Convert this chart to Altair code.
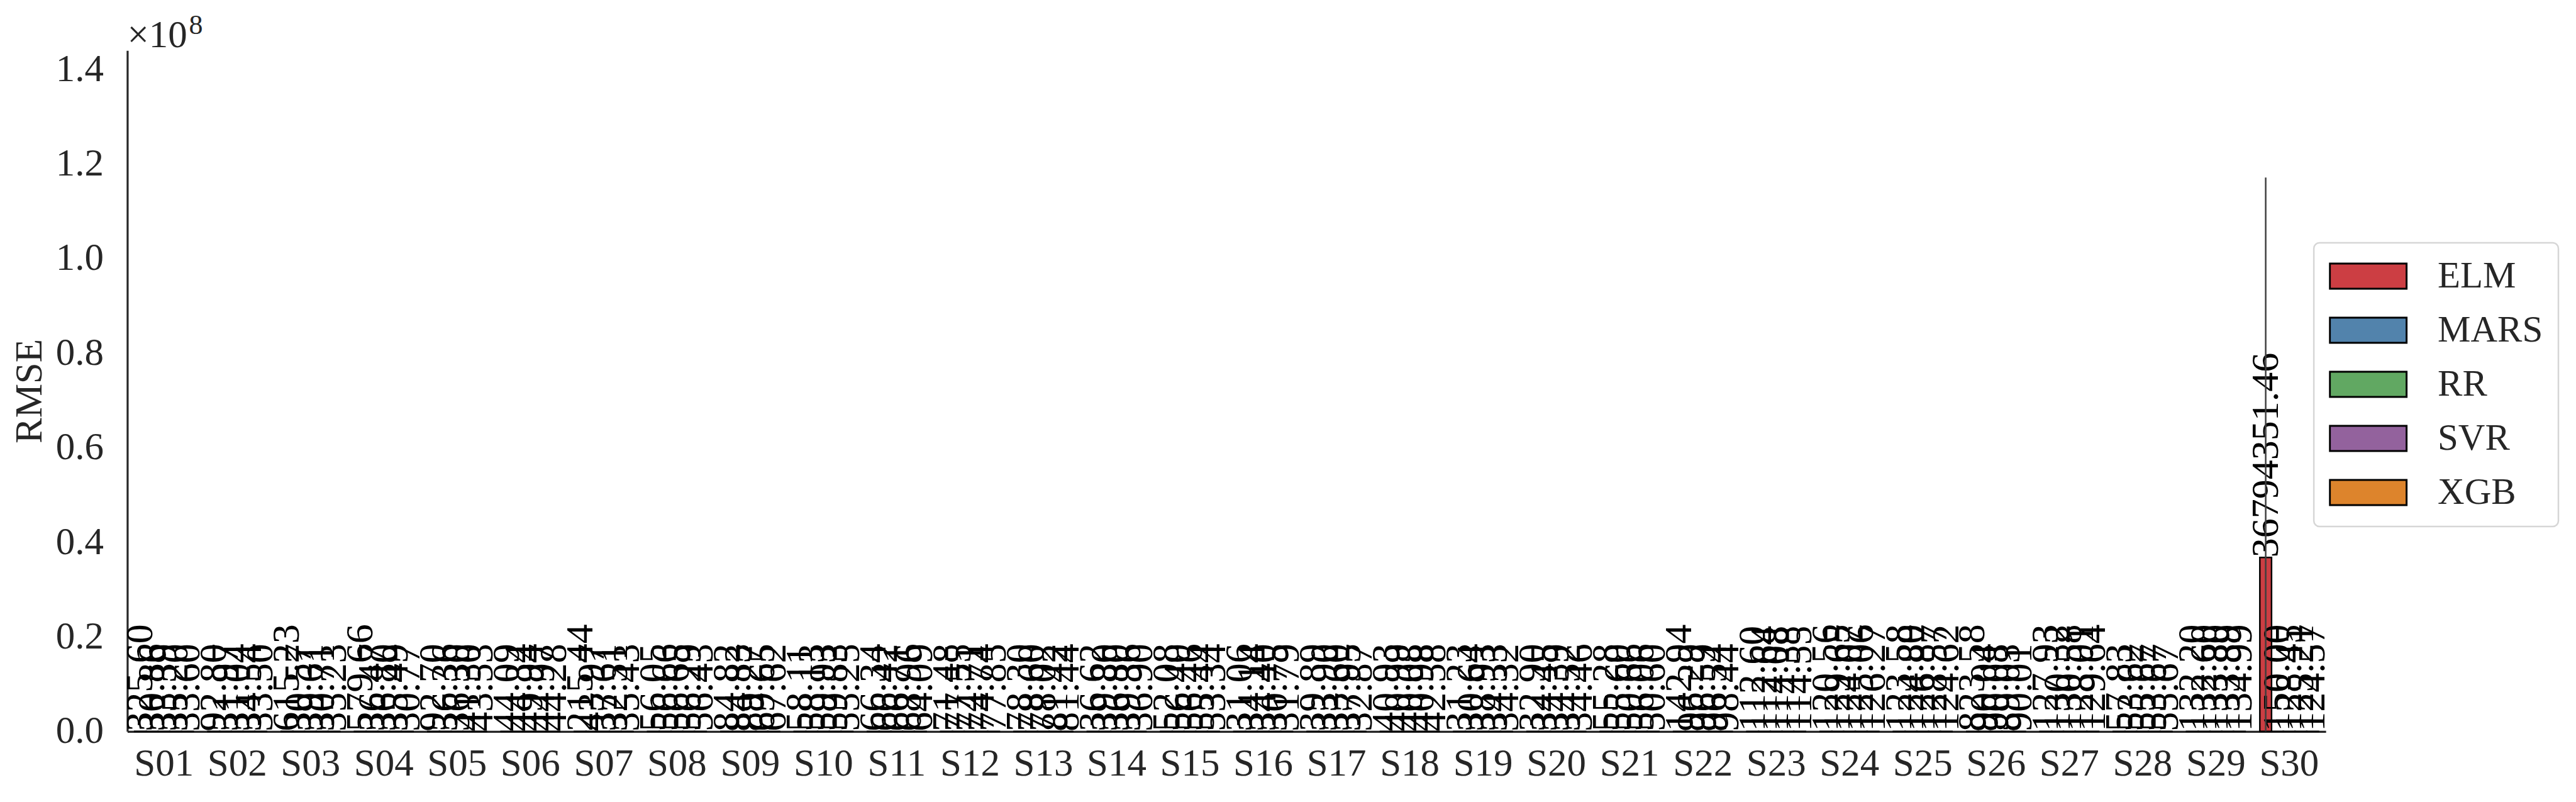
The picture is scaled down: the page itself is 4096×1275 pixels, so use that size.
import altair as alt
import pandas as pd

samples = ["S01", "S02", "S03", "S04", "S05", "S06", "S07", "S08", "S09", "S10",
           "S11", "S12", "S13", "S14", "S15", "S16", "S17", "S18", "S19", "S20",
           "S21", "S22", "S23", "S24", "S25", "S26", "S27", "S28", "S29", "S30"]
models = ["ELM", "MARS", "RR", "SVR", "XGB"]
colors = ["#CC3E43", "#5283AC", "#61A862", "#93629D", "#DD842C"]

elm = [325.60, 92.80, 615.23, 579.66, 92.70, 44.09, 215.44, 56.05, 84.82, 58.11,
       66.34, 71.48, 78.30, 36.62, 52.08, 31.06, 39.89, 40.93, 31.23, 32.90,
       55.28, 142.94, 112.60, 120.56, 123.58, 823.58, 127.93, 57.83, 132.20, 36794351.46]
mars = [30.86, 31.97, 30.57, 36.47, 36.36, 44.34, 43.97, 56.66, 84.83, 58.13,
        66.42, 77.55, 78.60, 39.80, 56.40, 34.14, 33.90, 40.99, 30.64, 34.45,
        55.60, 96.29, 112.64, 129.65, 124.80, 90.04, 130.32, 53.62, 132.60, 150.00]
rr = [33.39, 31.04, 39.61, 36.80, 36.30, 49.94, 37.61, 56.65, 89.27, 59.93,
      66.71, 74.71, 78.02, 36.80, 56.46, 34.40, 33.60, 40.08, 38.93, 34.39,
      50.66, 96.59, 114.08, 124.07, 126.87, 90.08, 130.58, 55.67, 133.80, 128.45]
svr = [35.20, 34.54, 30.71, 35.49, 41.30, 44.97, 32.51, 56.29, 69.65, 59.83,
       68.96, 74.74, 81.42, 39.36, 55.44, 30.75, 37.95, 40.98, 34.33, 34.52,
       56.06, 96.54, 114.38, 125.06, 128.57, 89.03, 128.01, 53.67, 133.89, 125.21]
xgb = [33.60, 33.50, 35.23, 30.77, 43.53, 44.28, 35.43, 56.43, 67.62, 55.25,
       64.09, 77.85, 81.44, 36.90, 53.34, 31.79, 32.87, 42.58, 34.32, 34.46,
       50.60, 98.44, 114.55, 126.27, 124.62, 90.01, 129.64, 55.67, 134.99, 124.57]
# visible error bar (only the S30 ELM one is large enough to be seen)
elm_err = [0, 0, 0, 0, 0, 0, 0, 0, 0, 0, 0, 0, 0, 0, 0,
           0, 0, 0, 0, 0, 0, 0, 0, 0, 0, 0, 0, 0, 0, 80340000.0]

y_ticks = [0, 0.2e8, 0.4e8, 0.6e8, 0.8e8, 1.0e8, 1.2e8, 1.4e8]

series = {"ELM": elm, "MARS": mars, "RR": rr, "SVR": svr, "XGB": xgb}
rows = []
for m in models:
    for i, s in enumerate(samples):
        v = series[m][i]
        e = elm_err[i] if m == "ELM" else 0.0
        rows.append({"sample": s, "model": m, "rmse": v, "label": f"{v:.2f}",
                     "err": e, "lo": v - e, "hi": v + e})
df = pd.DataFrame(rows)

FONT = "Liberation Serif"
TXT = "#262626"

x_enc = alt.X("sample:N", sort=samples,
              scale=alt.Scale(paddingInner=0.2, paddingOuter=0.1),
              axis=alt.Axis(title=None, labelAngle=0, ticks=False, labelFont=FONT,
                            labelFontSize=61, labelColor=TXT, labelPadding=22,
                            domainColor=TXT, domainWidth=3.2))
xo_enc = alt.XOffset("model:N", sort=models, scale=alt.Scale(paddingInner=0, paddingOuter=0))
y_scale = alt.Scale(domain=[0, 1.44e8], nice=False, zero=True)

base = alt.Chart(df).encode(x=x_enc, xOffset=xo_enc)

bars = base.mark_bar(stroke="black", strokeWidth=2.4).encode(
    y=alt.Y("rmse:Q", scale=y_scale,
            axis=alt.Axis(values=y_ticks, labelExpr="format(datum.value / 1e8, '.1f')",
                          ticks=False, grid=False, title="RMSE", titleFont=FONT,
                          titleFontSize=61, titleFontWeight="normal", titleColor=TXT,
                          titleAngle=270, titleX=-155, titleBaseline="middle",
                          labelFont=FONT, labelFontSize=61, labelColor=TXT,
                          labelPadding=38, domainColor=TXT, domainWidth=3.2)),
    color=alt.Color("model:N", scale=alt.Scale(domain=models, range=colors),
                    legend=alt.Legend(title=None, orient="none", legendX=3478, legendY=306,
                                      symbolType="M-1,-0.328H1V0.328H-1Z", symbolSize=14884,
                                      symbolStrokeColor="black", symbolStrokeWidth=3,
                                      labelFont=FONT, labelFontSize=59, labelColor=TXT,
                                      labelLimit=0, labelOffset=48, clipHeight=58,
                                      rowPadding=27, padding=24,
                                      strokeColor="#D6D6D6", cornerRadius=9,
                                      fillColor="white")),
)

labels = base.mark_text(angle=270, align="left", baseline="middle", font=FONT,
                        fontSize=62, color="black").encode(
    y=alt.Y("rmse:Q", scale=y_scale), text="label:N")

errs = base.transform_filter("datum.err > 0").mark_rule(
    color="#3F3F3F", strokeWidth=2.5, clip=True).encode(
    y=alt.Y("lo:Q", scale=y_scale), y2="hi:Q")

offset_df = pd.DataFrame({"t": ["×10"], "s": ["8"]})
off_main = alt.Chart(offset_df).mark_text(align="left", baseline="alphabetic", font=FONT,
                                          fontSize=61, color=TXT).encode(
    x=alt.value(0), y=alt.value(-5), text="t:N")
off_sup = alt.Chart(offset_df).mark_text(align="left", baseline="alphabetic", font=FONT,
                                         fontSize=44, color=TXT).encode(
    x=alt.value(98), y=alt.value(-26), text="s:N")

chart = alt.layer(bars, labels, errs, off_main, off_sup).properties(
    width=3497, height=1083,
    autosize=alt.AutoSizeParams(type="none"),
    padding={"left": 194.5, "top": 72, "right": 390, "bottom": 100},
    background="white",
).configure_view(stroke=None).configure_legend(strokeWidth=2.5)

chart.save("out.html", embed_options={"renderer": "svg", "actions": False})
